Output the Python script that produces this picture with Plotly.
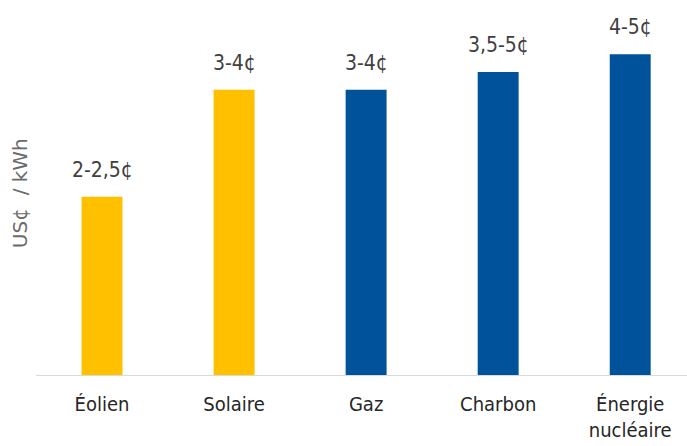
import plotly.graph_objects as go

# Levelised cost of electricity by source (US cents per kWh)
categories = ["Éolien", "Solaire", "Gaz", "Charbon", "Énergie<br>nucléaire"]
values = [2.5, 4.0, 4.0, 4.25, 4.5]
value_labels = ["2-2,5¢", "3-4¢", "3-4¢", "3,5-5¢", "4-5¢"]
bar_colors = ["#FFC000", "#FFC000", "#00529B", "#00529B", "#00529B"]
y_title = "US¢  / kWh"

font_family = "DejaVu Sans Condensed, DejaVu Sans, sans-serif"

fig = go.Figure(
    go.Bar(
        x=categories,
        y=values,
        marker=dict(color=bar_colors, line=dict(width=0)),
        width=0.31,
        hoverinfo="skip",
    )
)

# value ranges written above each bar
for cat, val, lab in zip(categories, values, value_labels):
    fig.add_annotation(
        x=cat, y=val, text=lab, showarrow=False,
        yanchor="bottom", yshift=13,
        font=dict(family=font_family, size=21, color="#404040"),
    )

# vertical axis caption
fig.add_annotation(
    xref="paper", yref="paper", x=0, y=0.485, xshift=-16,
    text=y_title, textangle=-90, showarrow=False,
    xanchor="center", yanchor="middle",
    font=dict(family="DejaVu Sans, sans-serif", size=20, color="#6B6B6B"),
)

fig.update_layout(
    width=687, height=446,
    margin=dict(l=36, r=0, t=0, b=71),
    paper_bgcolor="white", plot_bgcolor="white",
    showlegend=False,
    font=dict(family=font_family, color="#262626"),
    xaxis=dict(
        type="category",
        range=[-0.5, 4.43],
        showline=True, linecolor="#D9D9D9", linewidth=1,
        showgrid=False, zeroline=False,
        ticks="outside", ticklen=11, tickcolor="rgba(0,0,0,0)",
        tickfont=dict(family=font_family, size=20, color="#262626"),
    ),
    yaxis=dict(
        range=[0, 5.26],
        showticklabels=False, showgrid=False, zeroline=False, showline=False,
    ),
)

fig.write_html("out.html")
